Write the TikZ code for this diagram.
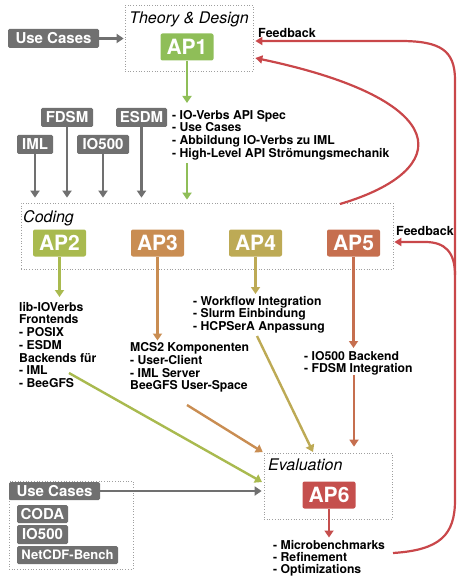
\documentclass[tikz,border=0pt]{standalone}
\usepackage{fontspec}
\setmainfont{TeX Gyre Heros}
\usetikzlibrary{arrows.meta,calc}

\definecolor{tagcol}{HTML}{707070}
\definecolor{apone}{HTML}{8FBE58}
\definecolor{aptwo}{HTML}{A9BA4F}
\definecolor{apthree}{HTML}{C98D52}
\definecolor{apfour}{HTML}{BDAA55}
\definecolor{apfive}{HTML}{C66F4F}
\definecolor{apsix}{HTML}{C54F4D}
\definecolor{fbred}{HTML}{C9474A}

\begin{document}
\begin{tikzpicture}[x=1pt,y=-1pt,
  area/.style={draw=gray!75,dotted,line width=0.7pt,inner sep=0pt},
  ap/.style={fill=#1,text=white,rounded corners=2pt,minimum width=53pt,minimum height=27pt,inner sep=0pt,font=\fontsize{21}{21}\selectfont\bfseries},
  tag/.style={fill=tagcol,text=white,rounded corners=1.5pt,inner sep=0pt,minimum height=19pt,font=\fontsize{15}{15}\selectfont\bfseries},
  ttl/.style={inner sep=0pt,font=\fontsize{16}{16}\selectfont\itshape},
  list/.style={anchor=north west,inner sep=0pt,align=left,font=\fontsize{12.2}{12.7}\selectfont\bfseries},
  fbtext/.style={anchor=north west,inner sep=0pt,font=\fontsize{12.5}{12.5}\selectfont\bfseries},
  arr/.style={draw=#1,line width=2.4pt,-{Triangle[length=7pt,width=9pt]}},
  fb/.style={draw=fbred,line width=2.2pt},
]
\useasboundingbox (0,0) rectangle (456,577);

% areas
\node[area,minimum width=128pt,minimum height=66pt] (theory) at (189,38) {};
\node[ttl,anchor=north] at (189,12) {Theory \& Design};
\node[area,minimum width=372pt,minimum height=66pt] (coding) at (207,236) {};
\node[ttl,anchor=north west] at (23,210) {Coding};
\node[area,minimum width=128pt,minimum height=66pt] (eval) at (328,486) {};
\node[ttl,anchor=north west] at (268,459) {Evaluation};
\node[area,minimum width=124pt,minimum height=88pt] (cases) at (71,525) {};

% work packages
\node[ap=apone] (ap1) at (187,47) {AP1};
\node[ap=aptwo] (ap2) at (59.5,243) {AP2};
\node[ap=apthree] (ap3) at (157.5,243) {AP3};
\node[ap=apfour] (ap4) at (255.5,243) {AP4};
\node[ap=apfive] (ap5) at (353.5,243) {AP5};
\node[ap=apsix] (ap6) at (329,495) {AP6};

% inputs
\node[tag,minimum width=91pt] (uctop) at (53.5,38.5) {Use Cases};
\node[tag,minimum width=52pt] (fdsm) at (67,117.5) {FDSM};
\node[tag,minimum width=51pt] (esdm) at (141.5,117.5) {ESDM};
\node[tag,minimum width=36pt] (iml) at (35,144.5) {IML};
\node[tag,minimum width=52pt] (ioa) at (103,144.5) {IO500};
\node[tag,minimum width=91pt,minimum height=18pt] (ucbot) at (54.5,491) {Use Cases};
\node[tag,minimum width=51pt,minimum height=18pt] (coda) at (42.5,514) {CODA};
\node[tag,minimum width=51pt] (iob) at (42.5,534.5) {IO500};
\node[tag,minimum width=101pt,minimum height=18pt,font=\fontsize{13}{13}\selectfont\bfseries] (netcdf) at (67.5,555) {NetCDF-Bench};

% results
\node[list] (spec) at (172,110) {- IO-Verbs API Spec\\- Use Cases\\- Abbildung IO-Verbs zu IML\\- High-Level API Strömungsmechanik};
\node[list] (res2) at (19,302) {lib-IOVerbs\\Frontends\\- POSIX\\- ESDM\\Backends für\\- IML\\- BeeGFS};
\node[list] (res3) at (130,342.5) {MCS2 Komponenten\\- User-Client\\- IML Server\\BeeGFS User-Space};
\node[list] (res4) at (193,296) {- Workflow Integration\\- Slurm Einbindung\\- HCPSerA Anpassung};
\node[list] (res5) at (304,351) {- IO500 Backend\\- FDSM Integration};
\node[list,font=\fontsize{12.2}{12.3}\selectfont\bfseries] (res6) at (273,540) {- Microbenchmarks\\- Refinement\\- Optimizations};

\node[fbtext] (fb1) at (258,28) {Feedback};
\node[fbtext] (fb2) at (396,226.5) {Feedback};

% free ends
\coordinate (a2s) at (69,373);
\coordinate (a2e) at (262,482);
\coordinate (a3s) at (187,405);
\coordinate (a4s) at (257,336);
\coordinate (a4e) at (313,452);
\coordinate (a5s) at (354,375);
\coordinate (outs) at (393,553);
\coordinate (ins) at (340,204);

% arrows
\draw[arr=tagcol,shorten >=1pt] (uctop) -- (theory.west |- uctop);
\foreach \t in {iml,fdsm,ioa,esdm}
  \draw[arr=tagcol,shorten >=5pt] (\t) -- (\t |- coding.north);
\draw[arr=apone,shorten >=7pt] (ap1.south) -- (ap1 |- spec.north);
\draw[arr=apone,shorten <=3pt,shorten >=3pt] (ap1 |- spec.south) -- (ap1 |- coding.north);
\draw[arr=aptwo,shorten >=5pt] (ap2.south) -- (ap2 |- res2.north);
\draw[arr=apthree,shorten >=2pt] (ap3.south) -- (ap3 |- res3.north);
\draw[arr=apfour,shorten >=2pt] (ap4.south) -- (ap4 |- res4.north);
\draw[arr=apfive,shorten >=3pt] (ap5.south) -- (ap5 |- res5.north);
\draw[arr=apsix,shorten >=2.5pt] (ap6.south) -- (ap6 |- res6.north);

\draw[arr=aptwo] (a2s) -- (a2e);
\draw[arr=apthree,shorten >=1pt] (a3s) -- (eval.north west);
\draw[arr=apfour] (a4s) -- (a4e);
\draw[arr=apfive,shorten >=6pt] (a5s) -- (a5s |- eval.north);
\draw[arr=tagcol,shorten >=2pt] (ucbot.east) -- (eval.west |- ucbot);

% feedback
\draw[fb,-{Triangle[length=7pt,width=8pt]}] (outs) .. controls (440,550) and (455,535) .. (455,500)
  -- (455,80) .. controls (455,50) and (440,41) .. (400,41) -- ($(theory.east |- 0,41)+(2,0)$);
\draw[fb,-{Triangle[length=7pt,width=8pt]}] (455,275) .. controls (455,252) and (445,242) .. (425,242) -- ($(coding.east |- 0,242)+(1,0)$);
\draw[fb,-{Triangle[length=7pt,width=8pt]}] (ins) .. controls (455,170) and (455,100) .. ($(theory.east |- 0,58)+(2,0)$);
\end{tikzpicture}
\end{document}
